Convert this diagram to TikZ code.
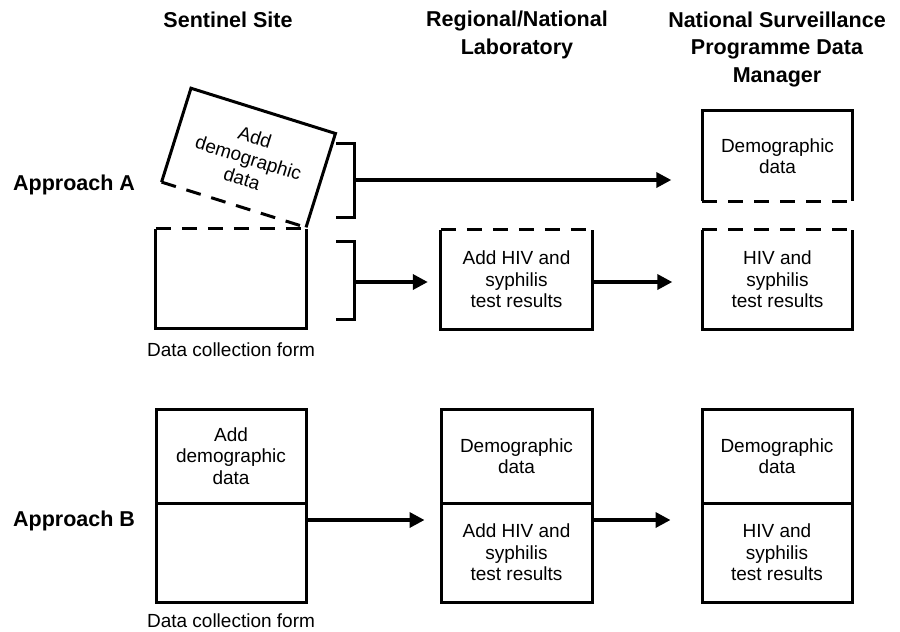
\documentclass[tikz,border=0pt]{standalone}
\usepackage{fontspec}
\setmainfont{Liberation Sans}
\usetikzlibrary{arrows.meta, positioning}

\tikzset{
  box/.style={minimum width=150pt, minimum height=99pt, inner sep=0pt, align=center,
    font=\fontsize{19}{21.5}\selectfont},
  solidbox/.style={box, draw, line width=3pt},
  edge/.style={line width=3pt, line join=miter},
  dashedge/.style={line width=3pt, dash pattern=on 15pt off 11pt},
  arr/.style={line width=3.5pt, -{Triangle[length=15pt, width=15pt]}},
  head/.style={font=\fontsize{21.5}{27.5}\selectfont\bfseries, align=center, inner sep=0pt},
  note/.style={font=\fontsize{19}{21.5}\selectfont, inner sep=0pt}
}

\begin{document}
\begin{tikzpicture}[x=1pt, y=-1pt]
\useasboundingbox (0,0) rectangle (900,632);

% column and row headings
\node[head] (colSite) at (228,20) {Sentinel Site};
\node[head] (colLab) at (517,35) {Regional/National\\Laboratory};
\node[head] (colMgr) at (777,49) {National Surveillance\\Programme Data\\Manager};
\node[head, anchor=west] (apprA) at (13,185) {Approach A};
\node[head, anchor=west] (apprB) at (13,521) {Approach B};

% Approach A
\node[box, minimum width=151pt, minimum height=98pt, rotate=-17.4] (addA) at (248.5,157.8) {Add\\demographic\\data};
\draw[edge] (addA.south west) -- (addA.north west) -- (addA.north east) -- (addA.south east);
\draw[dashedge] (addA.south west) -- (addA.south east);

\node[box] (formA) at (231,278.5) {};
\draw[edge] (formA.north west) -- (formA.south west) -- (formA.south east) -- (formA.north east);
\draw[dashedge] (formA.north west) -- (formA.north east);
\node[note, below=14pt of formA] (formAlab) {Data collection form};

\node[box, minimum height=90pt] (demoA) at (777.5,156) {Demographic\\data};
\draw[edge] (demoA.south west) -- (demoA.north west) -- (demoA.north east) -- (demoA.south east);
\draw[dashedge] (demoA.south west) -- (demoA.south east);

\node[box, minimum width=151pt] (labA) at (516.5,279.5) {Add HIV and\\syphilis\\test results};
\draw[edge] (labA.north west) -- (labA.south west) -- (labA.south east) -- (labA.north east);
\draw[dashedge] (labA.north west) -- (labA.north east);

\node[box] (hivA) at (777.5,279.5) {HIV and\\syphilis\\test results};
\draw[edge] (hivA.north west) -- (hivA.south west) -- (hivA.south east) -- (hivA.north east);
\draw[dashedge] (hivA.north west) -- (hivA.north east);

% brackets
\draw[edge] (336,143) -| (354,217) -- (336,217);
\draw[edge] (336,241) -| (354,319) -- (336,319);
\coordinate (brkTop) at (354,180);
\coordinate (brkBot) at (354,282);

\draw[arr, shorten >=31pt] (brkTop) -- (demoA.west |- brkTop);
\draw[arr, shorten >=13pt] (brkBot) -- (labA.west |- brkBot);
\draw[arr, shorten >=30pt] (labA.east |- brkBot) -- (hivA.west |- brkBot);

% Approach B
\node[solidbox, minimum height=94pt] (formBtop) at (231,456) {Add\\demographic\\data};
\node[solidbox] (formBbot) at (231,552.5) {};
\node[note, below=10pt of formBbot] (formBlab) {Data collection form};

\node[solidbox, minimum width=151pt, minimum height=94pt] (labBtop) at (516.5,456) {Demographic\\data};
\node[solidbox, minimum width=151pt] (labBbot) at (516.5,552.5) {Add HIV and\\syphilis\\test results};

\node[solidbox, minimum height=94pt] (mgrBtop) at (777,456) {Demographic\\data};
\node[solidbox] (mgrBbot) at (777,552.5) {HIV and\\syphilis\\test results};

\coordinate (rowB) at (0,520);
\draw[arr, shorten >=15pt] (formBbot.east |- rowB) -- (labBbot.west |- rowB);
\draw[arr, shorten >=30pt] (labBbot.east |- rowB) -- (mgrBbot.west |- rowB);
\end{tikzpicture}
\end{document}
